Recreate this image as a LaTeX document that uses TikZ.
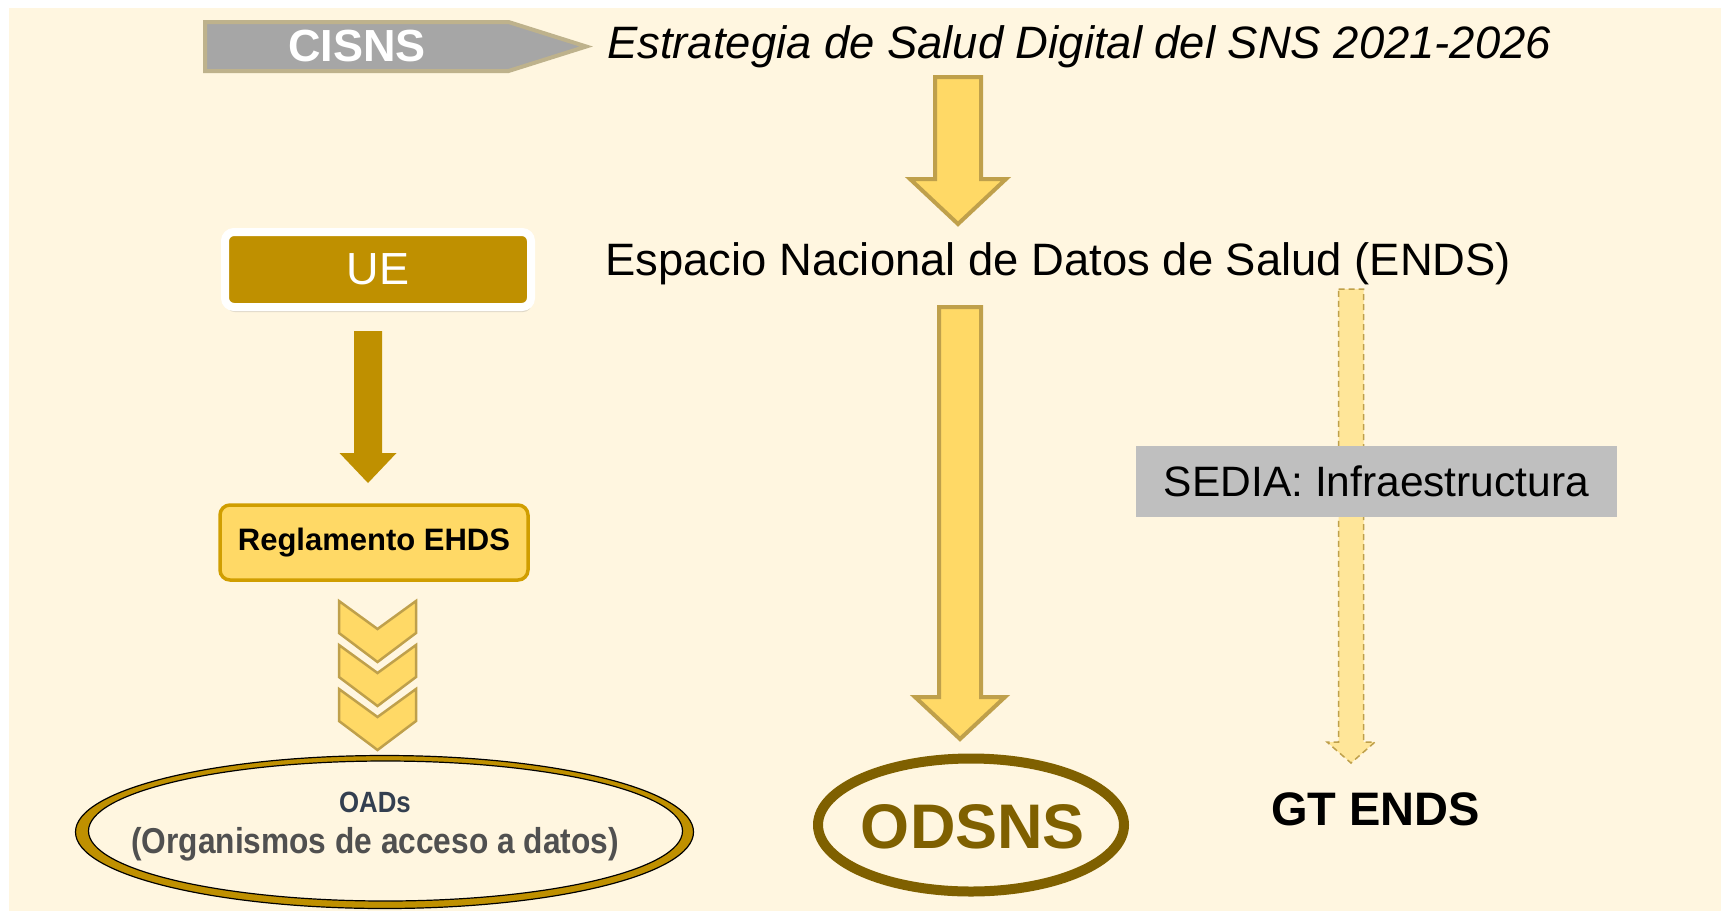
\documentclass[tikz,border=0pt]{standalone}
\usepackage{fontspec}
\setmainfont{Liberation Sans}
\newfontfamily\narrowsans[FakeStretch=0.88]{Liberation Sans}
\usepackage{xcolor}
\usetikzlibrary{positioning,calc}
\usetikzlibrary{shapes.geometric,shapes.symbols,shadows}
\definecolor{cream}{RGB}{255, 246, 224}
\definecolor{cisgray}{RGB}{166, 166, 166}
\definecolor{cistan}{RGB}{190, 178, 140}
\definecolor{uegold}{RGB}{191, 144, 0}
\definecolor{lightgold}{RGB}{255, 217, 102}
\definecolor{palegold}{RGB}{255, 230, 153}
\definecolor{arrowtan}{RGB}{191, 160, 75}
\definecolor{reglborder}{RGB}{208, 158, 0}
\definecolor{sediagray}{RGB}{191, 191, 191}
\definecolor{odsbrown}{RGB}{127, 96, 0}
\definecolor{oadsblue}{RGB}{51, 63, 80}
\definecolor{oadsgray}{RGB}{80, 80, 80}

\begin{document}
\begin{tikzpicture}[x=1pt,y=-1pt,
    fatarrow/.style n args={3}{to path={
        let \p1=(\tikztostart), \p2=(\tikztotarget) in
        (\x1-#1,\y1) -- (\x1+#1,\y1) -- (\x1+#1,\y2+#3) -- (\x1+#2,\y2+#3)
        -- (\x2,\y2) -- (\x1-#2,\y2+#3) -- (\x1-#1,\y2+#3) -- cycle}},
    goldarrow/.style={fill=lightgold,draw=arrowtan,line width=4pt},
    chevron/.style={fill=lightgold,draw=arrowtan,line width=2.5pt},
    bigtext/.style={inner sep=0pt,font=\fontsize{45.4}{54}\selectfont}]
        % Background
        \useasboundingbox (0,0) rectangle (1721,911);
        \fill[white] (0,0) rectangle (1721,911);
        \fill[cream] (9,8) rectangle (1721,911);

        % Top line
        \node[signal,signal to=east,signal pointer angle=35,fill=cisgray,draw=cistan,
              line width=4pt,outer sep=0pt,inner xsep=83pt,minimum height=49pt,
              anchor=west,text=white,font=\fontsize{45}{54}\selectfont\bfseries]
              (cisns) at (205,46.5) {CISNS};
        \node[bigtext,anchor=west,font=\fontsize{45.4}{54}\selectfont\itshape]
              (strategy) at (607,47) {Estrategia de Salud Digital del SNS 2021-2026};

        \coordinate (a1top) at (958,77);
        \coordinate (a1tip) at (958,224);
        \draw[goldarrow] (a1top) to[fatarrow={23pt}{48pt}{45pt}] (a1tip);

        \node[bigtext,anchor=west] (ends) at (605,264) {Espacio Nacional de Datos de Salud (ENDS)};

        % Left column
        \node[rectangle,rounded corners=9pt,fill=uegold,draw=white,line width=8pt,
              minimum width=306pt,minimum height=75pt,text=white,
              font=\fontsize{45}{54}\selectfont,
              drop shadow={opacity=0.25,shadow xshift=1pt,shadow yshift=-5pt}]
              (ue) at (378,269.5) {UE};

        \coordinate (a3top) at (368,331);
        \coordinate (a3tip) at (368,483);
        \fill[uegold] (a3top) to[fatarrow={14pt}{28.5pt}{30pt}] (a3tip);

        \node[rectangle,rounded corners=10pt,fill=lightgold,draw=reglborder,line width=3.5pt,
              minimum width=308pt,minimum height=75pt,
              font=\fontsize{31}{37}\selectfont\bfseries]
              (regl) at (374,542.5) {\raisebox{-2pt}{Reglamento EHDS}};

        \foreach \t in {601,645,689}
            \draw[chevron] (339,\t) -- (377.5,\t+28) -- (416,\t) -- (416,\t+32)
                -- (377.5,\t+61) -- (339,\t+32) -- cycle;

        % brush ring
        \draw[fill=uegold,draw=black,line width=1.2pt] (384.5,832) ellipse [x radius=309, y radius=76.5];
        \draw[fill=cream,draw=black,line width=1.2pt] (385.5,831) ellipse [x radius=297, y radius=70];
        \node[align=center,inner sep=0pt,text=oadsgray,
              font=\narrowsans\bfseries\fontsize{36}{41.5}\selectfont]
              (oads) at (375,826.5) {{\fontsize{29.3}{41.5}\selectfont\color{oadsblue}OADs}\\(Organismos de acceso a datos)};

        % Middle column
        \coordinate (a2top) at (960,307);
        \coordinate (a2tip) at (960,739);
        \draw[goldarrow] (a2top) to[fatarrow={21pt}{45pt}{42pt}] (a2tip);

        \draw[odsbrown,line width=10pt] (971,825) ellipse [x radius=153, y radius=66.5];
        \node[inner sep=0pt,text=odsbrown,font=\fontsize{63}{75}\selectfont\bfseries]
              (odsns) at (973,827) {ODSNS};

        % Right column
        \coordinate (a4top) at (1351,289);
        \coordinate (a4tip) at (1351,763);
        \draw[fill=palegold,draw=arrowtan,line width=1.5pt,dash pattern=on 6pt off 4pt]
              (a4top) to[fatarrow={12.5pt}{24pt}{21pt}] (a4tip);

        \node[fill=sediagray,minimum width=481pt,minimum height=71pt,
              font=\fontsize{42.5}{51}\selectfont]
              (sedia) at (1376.5,481.5) {SEDIA: Infraestructura};

        \node[inner sep=0pt,font=\fontsize{47}{56}\selectfont\bfseries]
              (gtends) at (1375.5,809) {GT ENDS};
\end{tikzpicture}
\end{document}
